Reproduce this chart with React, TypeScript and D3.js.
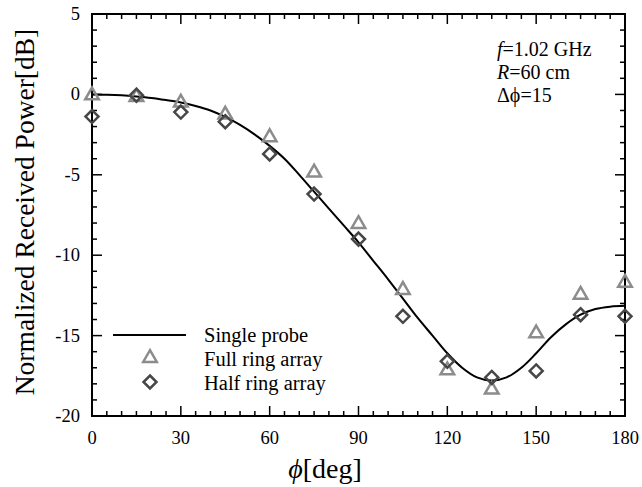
import React from 'react';
import * as d3 from 'd3';

// angle samples (deg)
const probeAngles = [0, 5, 10, 15, 20, 25, 30, 35, 40, 45, 50, 55, 60, 65, 70, 75, 80, 85, 90, 95, 100, 105, 110, 115, 120, 125, 130, 135, 140, 145, 150, 155, 160, 165, 170, 175, 180];
const singleProbe = [0, -0.02, -0.06, -0.13, -0.22, -0.35, -0.5, -0.72, -1.0, -1.4, -1.9, -2.5, -3.2, -4.0, -5.0, -6.05, -7.1, -8.15, -9.2, -10.35, -11.5, -12.7, -13.9, -15.0, -16.1, -17.0, -17.6, -17.8, -17.6, -17.0, -16.1, -15.1, -14.3, -13.7, -13.35, -13.2, -13.15];

const arrayAngles = [0, 15, 30, 45, 60, 75, 90, 105, 120, 135, 150, 165, 180];
const fullRing = [0.0, -0.1, -0.45, -1.2, -2.6, -4.8, -8.0, -12.1, -17.1, -18.3, -14.8, -12.4, -11.65];
const halfRing = [-1.38, -0.05, -1.1, -1.7, -3.7, -6.2, -9.0, -13.8, -16.6, -17.6, -17.2, -13.7, -13.8];

const xMajor = [0, 30, 60, 90, 120, 150, 180];
const yMajor = [5, 0, -5, -10, -15, -20];

const W = 642;
const H = 487;
const m = { left: 92, right: 17, top: 14, bottom: 71 };
const font = '"Liberation Serif", "Times New Roman", serif';

const App = () => {
  const x = d3.scaleLinear().domain([0, 180]).range([m.left, W - m.right]);
  const y = d3.scaleLinear().domain([-20, 5]).range([H - m.bottom, m.top]);

  const line = d3
    .line<number>()
    .x((_, i) => x(probeAngles[i]))
    .y((d) => y(d))
    .curve(d3.curveCatmullRom)(singleProbe);

  const tri = d3.symbol().type(d3.symbolTriangle).size(80)();
  const dia = (s: number) => `M0,${-s}L${s},0L0,${s}L${-s},0Z`;

  const xMinor = d3.range(0, 181, 5).filter((v) => v % 30 !== 0);
  const yMinor = d3.range(-20, 5.01, 1).filter((v) => v % 5 !== 0);
  const x0 = x(0), x1 = x(180), y0 = y(-20), y1 = y(5);

  return (
    <svg width={W} height={H} style={{ position: 'absolute', left: 0, top: 0, background: '#fff' }} fontFamily={font}>
      {/* ticks, all inward on the four sides */}
      <g stroke='#000' strokeWidth={1.5}>
        {xMajor.map((v) => (
          <g key={'xM' + v}>
            <line x1={x(v)} x2={x(v)} y1={y0} y2={y0 - 10} />
            <line x1={x(v)} x2={x(v)} y1={y1} y2={y1 + 10} />
          </g>
        ))}
        {xMinor.map((v) => (
          <g key={'xm' + v}>
            <line x1={x(v)} x2={x(v)} y1={y0} y2={y0 - 5} />
            <line x1={x(v)} x2={x(v)} y1={y1} y2={y1 + 5} />
          </g>
        ))}
        {yMajor.map((v) => (
          <g key={'yM' + v}>
            <line x1={x0} x2={x0 + 10} y1={y(v)} y2={y(v)} />
            <line x1={x1} x2={x1 - 10} y1={y(v)} y2={y(v)} />
          </g>
        ))}
        {yMinor.map((v) => (
          <g key={'ym' + v}>
            <line x1={x0} x2={x0 + 5} y1={y(v)} y2={y(v)} />
            <line x1={x1} x2={x1 - 5} y1={y(v)} y2={y(v)} />
          </g>
        ))}
      </g>
      <rect x={x0} y={y1} width={x1 - x0} height={y0 - y1} fill='none' stroke='#000' strokeWidth={2} />

      {xMajor.map((v) => (
        <text key={'xl' + v} x={x(v)} y={y0 + 28} textAnchor='middle' fontSize={18.5}>
          {v}
        </text>
      ))}
      {yMajor.map((v) => (
        <text key={'yl' + v} x={x0 - 12} y={y(v) + 6} textAnchor='end' fontSize={18.5}>
          {v}
        </text>
      ))}

      <text transform={`translate(34,212) rotate(-90)`} textAnchor='middle' fontSize={27.5}>
        Normalized Received Power[dB]
      </text>
      <text x={325} y={478} textAnchor='middle' fontSize={28}>
        <tspan fontStyle='italic'>ϕ</tspan>[deg]
      </text>

      <path d={line || ''} fill='none' stroke='#000' strokeWidth={2} />

      {arrayAngles.map((a, i) => (
        <path key={'t' + a} d={tri || ''} transform={`translate(${x(a)},${y(fullRing[i]) + 1})`} fill='none' stroke='#8c8c8c' strokeWidth={2.5} />
      ))}
      {arrayAngles.map((a, i) => (
        <path key={'d' + a} d={dia(6.5)} transform={`translate(${x(a)},${y(halfRing[i])})`} fill='none' stroke='#474747' strokeWidth={2.5} />
      ))}

      {/* annotation */}
      <g fontSize={20}>
        <text x={497} y={56}><tspan fontStyle='italic'>f</tspan>=1.02 GHz</text>
        <text x={497} y={79}><tspan fontStyle='italic'>R</tspan>=60 cm</text>
        <text x={497} y={102}>Δϕ=15</text>
      </g>

      {/* legend */}
      <g fontSize={20.5}>
        <line x1={113} x2={186} y1={335} y2={335} stroke='#000' strokeWidth={2} />
        <text x={204} y={342}>Single probe</text>
        <path d={tri || ''} transform='translate(150,358)' fill='none' stroke='#8c8c8c' strokeWidth={2.5} />
        <text x={204} y={366}>Full ring array</text>
        <path d={dia(6.5)} transform='translate(150,382)' fill='none' stroke='#474747' strokeWidth={2.5} />
        <text x={204} y={390}>Half ring array</text>
      </g>
    </svg>
  );
};

export default App;
